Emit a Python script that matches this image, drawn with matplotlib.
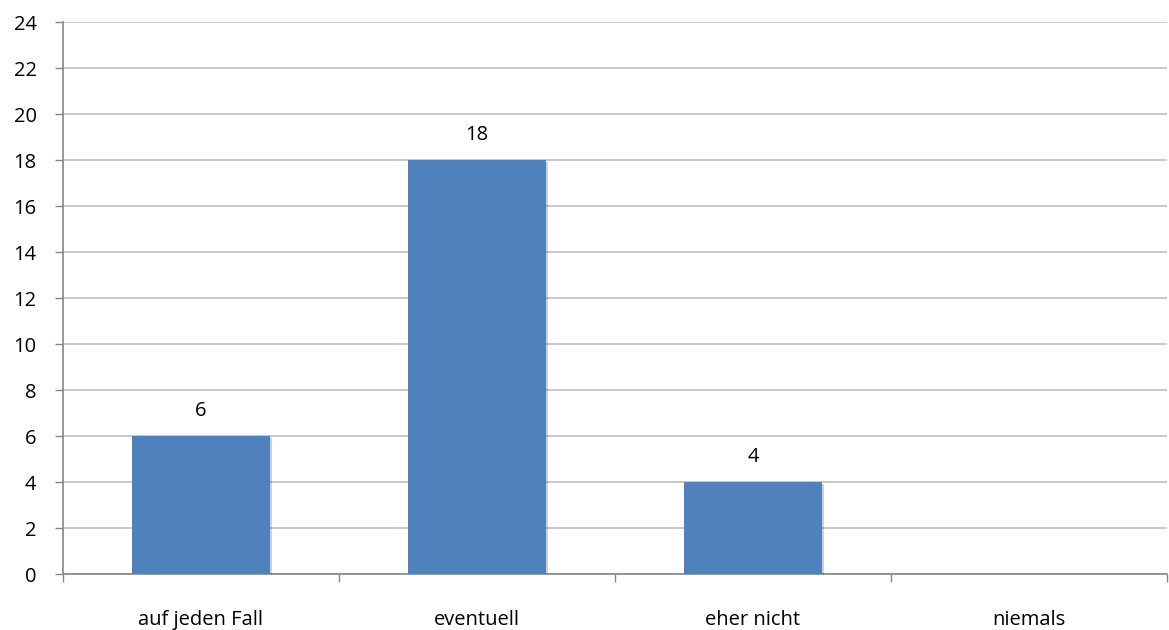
import matplotlib.pyplot as plt
import matplotlib.patheffects as pe

categories = ['auf jeden Fall', 'eventuell', 'eher nicht', 'niemals']
counts = [6, 18, 4, 0]
y_ticks = list(range(0, 25, 2))

plt.rcParams['font.family'] = ['Open Sans', 'DejaVu Sans']
FS = 14.5

fig = plt.figure(figsize=(11.69, 6.30), dpi=100)
ax = fig.add_axes([63 / 1169, 1 - 574 / 630, (1167 - 63) / 1169, (574 - 22) / 630])

x = list(range(len(categories)))
bars = ax.bar(x, counts, width=0.5, color='#4F81BD', zorder=3)
for b in bars:
    b.set_path_effects([pe.SimplePatchShadow(offset=(1.2, -1.2), shadow_rgbFace='#000000', alpha=0.18),
                        pe.Normal()])

for xi, v in zip(x, counts):
    if v > 0:
        ax.annotate(str(v), (xi, v), xytext=(0, 11), textcoords='offset points',
                    ha='center', va='bottom', fontsize=FS, color='#000000')

ax.set_xlim(-0.5, len(categories) - 0.5)
ax.set_ylim(0, 24)
ax.set_yticks(y_ticks)
ax.yaxis.grid(True, color='#BFBFBF', linewidth=1.2, zorder=0)
ax.set_axisbelow(True)

ax.set_xticks(x)
ax.set_xticklabels(categories)
ax.set_xticks([i - 0.5 for i in range(len(categories) + 1)], minor=True)
ax.tick_params(axis='x', which='major', length=0, pad=26, labelsize=FS)
ax.tick_params(axis='x', which='minor', length=6, width=1, color='#868686', direction='out')
ax.tick_params(axis='y', length=6, width=1, color='#868686', pad=13, labelsize=FS)

for s in ['top', 'right']:
    ax.spines[s].set_visible(False)
for s in ['left', 'bottom']:
    ax.spines[s].set_color('#868686')
    ax.spines[s].set_linewidth(1.2)

fig.savefig('out.png', dpi=100, facecolor='white')
